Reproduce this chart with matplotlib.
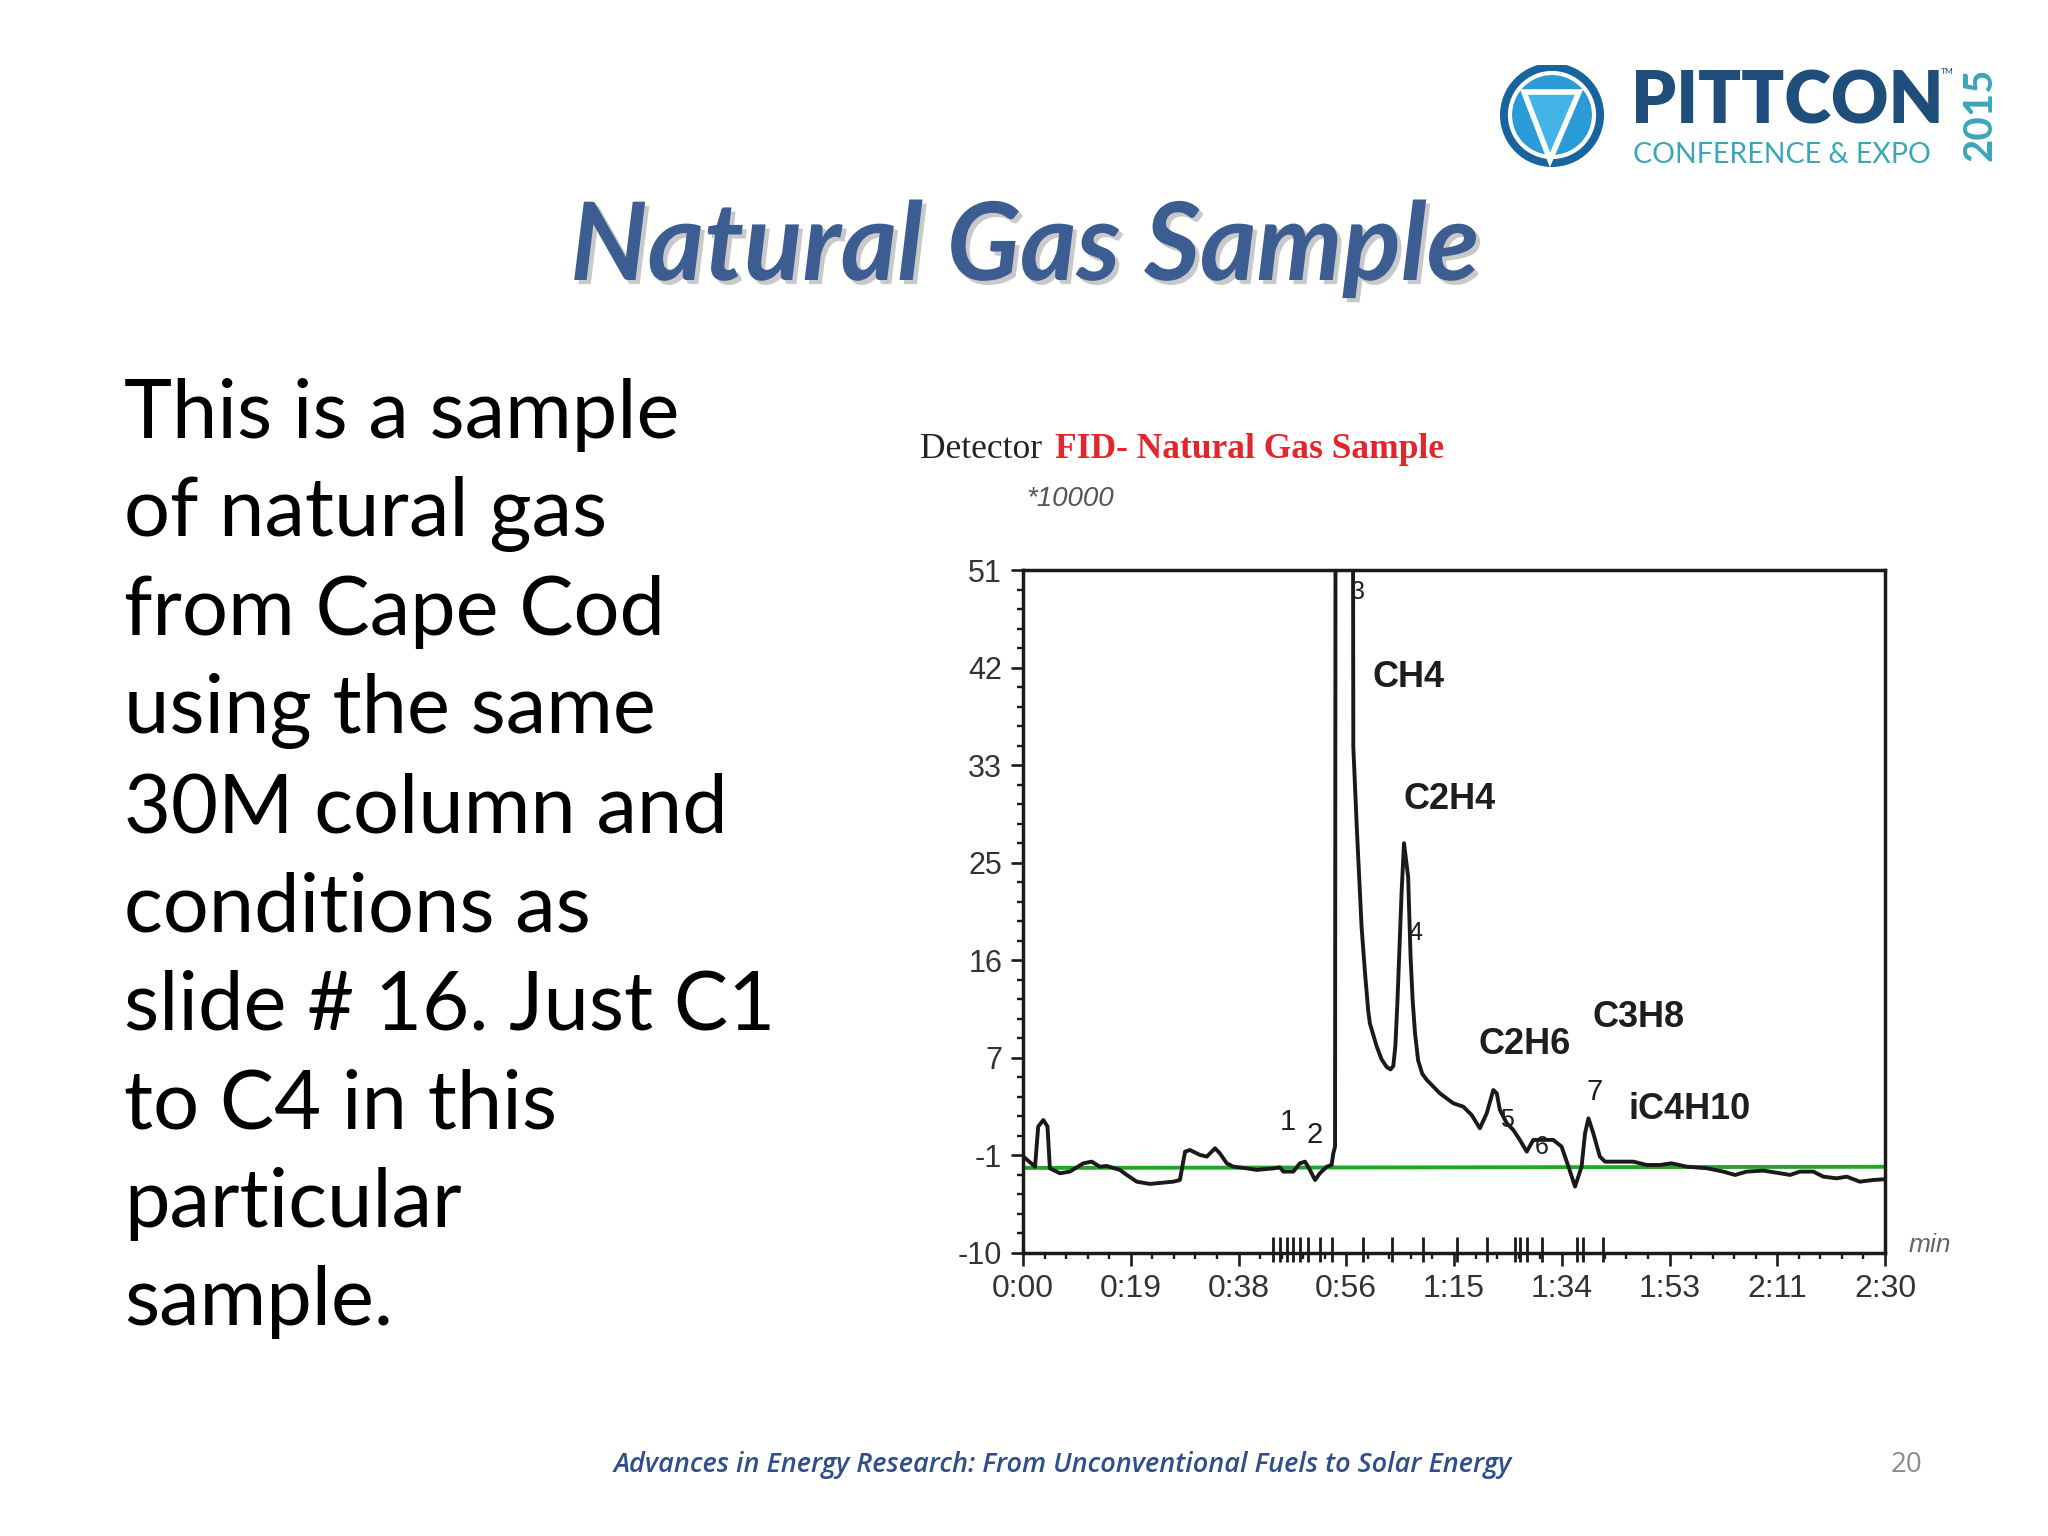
import matplotlib.pyplot as plt
import matplotlib.patheffects as pe
from matplotlib.patches import Circle, Polygon
import numpy as np

# chromatogram trace, time in min, signal in units of 10000
time_min = [0.001, 0.035, 0.044, 0.059, 0.071, 0.078, 0.107, 0.136, 0.175, 0.199,
            0.223, 0.243, 0.281, 0.301, 0.330, 0.368, 0.436, 0.455, 0.470, 0.484,
            0.513, 0.533, 0.557, 0.571, 0.591, 0.610, 0.649, 0.678, 0.726, 0.745,
            0.755, 0.784, 0.803, 0.818, 0.832, 0.847, 0.861, 0.881, 0.895, 0.900,
            0.905, 0.907, 0.956, 0.958, 0.968, 0.982, 0.992, 1.001, 1.006, 1.026,
            1.040, 1.055, 1.066, 1.074, 1.080, 1.086, 1.098, 1.105, 1.117, 1.124,
            1.130, 1.137, 1.146, 1.158, 1.171, 1.209, 1.248, 1.277, 1.301, 1.325,
            1.345, 1.364, 1.374, 1.383, 1.403, 1.422, 1.441, 1.461, 1.480, 1.509,
            1.538, 1.562, 1.582, 1.601, 1.620, 1.630, 1.640, 1.654, 1.673, 1.688,
            1.731, 1.770, 1.809, 1.847, 1.881, 1.925, 1.983, 2.031, 2.065, 2.099,
            2.147, 2.196, 2.225, 2.253, 2.292, 2.321, 2.360, 2.389, 2.427, 2.466,
            2.495]
signal = [-1.39, -2.29, 1.29, 1.88, 1.29, -2.44, -2.88, -2.73, -1.99, -1.84,
          -2.29, -2.23, -2.58, -3.03, -3.63, -3.83, -3.63, -3.48, -0.95, -0.80,
          -1.24, -1.39, -0.65, -1.10, -1.99, -2.29, -2.44, -2.58, -2.44, -2.35,
          -2.73, -2.73, -1.99, -1.84, -2.58, -3.48, -2.88, -2.29, -2.14, -1.10,
          -0.50, 80.0, 80.0, 35.2, 28.05, 19.1, 14.98, 11.7, 10.51, 8.43,
          7.3, 6.6, 6.4, 6.7, 8.5, 12.5, 22.2, 26.6, 23.6, 16.5,
          12.6, 9.6, 7.2, 6.0, 5.46, 4.26, 3.37, 3.07, 2.33, 1.14,
          2.48, 4.56, 4.26, 2.78, 1.59, 0.99, 0.10, -0.95, 0.10, 0.10,
          0.10, -0.50, -2.29, -4.07, -2.29, 0.69, 2.03, 0.69, -1.39, -1.84,
          -1.84, -1.84, -2.14, -2.14, -1.99, -2.29, -2.43, -2.73, -3.03, -2.73,
          -2.64, -2.88, -3.03, -2.73, -2.73, -3.18, -3.33, -3.18, -3.63, -3.48,
          -3.42]

baseline_t = [0.0, 2.5]
baseline_v = [-2.4, -2.3]

# integration event marks on the time axis
events = [0.726, 0.745, 0.765, 0.784, 0.803, 0.827, 0.861, 0.895, 0.987, 1.069,
          1.161, 1.26, 1.345, 1.427, 1.441, 1.461, 1.504, 1.606, 1.625, 1.683]

compounds = ['CH4', 'C2H4', 'C2H6', 'C3H8', 'iC4H10']
compound_pos = [(1.117, 41.4), (1.238, 30.5), (1.456, 8.6), (1.784, 11.0), (1.934, 2.8)]
peak_nums = ['1', '2', '3', '4', '5', '6', '7']
peak_pos = [(0.769, 1.7), (0.847, 0.5), (0.972, 49.0), (1.137, 18.6),
            (1.404, 1.9), (1.505, -0.5), (1.659, 4.4)]

xtick_labels = ['0:00', '0:19', '0:38', '0:56', '1:15', '1:34', '1:53', '2:11', '2:30']
ytick_labels = ['-10', '-1', '7', '16', '25', '33', '42', '51']

body_lines = ['This is a sample', 'of natural gas', 'from Cape Cod', 'using the same',
              '30M column and', 'conditions as', 'slide # 16. Just C1', 'to C4 in this',
              'particular', 'sample.']

W, H = 2048, 1536
fig = plt.figure(figsize=(20.48, 15.36), dpi=100)
fig.patch.set_facecolor('white')

def fx(px):
    return px / W

def fy(py):
    return 1 - py / H

# title and slide text
fig.text(fx(1025), fy(249), 'Natural Gas Sample', family='Lato', style='italic',
         weight='bold', size=78, color='#3c5d91', ha='center', va='center',
         path_effects=[pe.withSimplePatchShadow(offset=(3, -3), shadow_rgbFace='#888888', alpha=0.45)])

for i, line in enumerate(body_lines):
    fig.text(fx(124), fy(415 + i * 98.6), line, family='Lato', size=58.5,
             color='black', ha='left', va='center')

fig.text(fx(1063), fy(1465), 'Advances in Energy Research: From Unconventional Fuels to Solar Energy',
         family='Open Sans', style='italic', weight='semibold', size=19.5,
         color='#2e4e8c', ha='center', va='center')
fig.text(fx(1907), fy(1465), '20', family='Open Sans', size=20, color='#8c8c8c',
         ha='center', va='center')

# logo
lax = fig.add_axes([fx(1490), fy(175), fx(530), 110 / H])
lax.set_xlim(1490, 2020)
lax.set_ylim(175, 65)
lax.set_aspect('equal')
lax.axis('off')
lax.add_patch(Circle((1552, 115), 52, facecolor='#17649f', edgecolor='none'))
lax.add_patch(Circle((1552, 115), 42, facecolor='#2b9bd8', edgecolor='white', lw=3))
lax.add_patch(Polygon([(1524, 92), (1579, 92), (1550, 160)], closed=True,
                      facecolor='#43b4e6', edgecolor='white', lw=4))
lax.text(1631, 102, 'PITTCON', family='Lato', weight='heavy', size=51,
         color='#1f4e7a', ha='left', va='center')
lax.text(1941, 72, 'TM', family='Lato', size=6, color='#1f4e7a', ha='left', va='center')
lax.text(1633, 155, 'CONFERENCE & EXPO', family='Lato', size=20.5,
         color='#3aa6b8', ha='left', va='center')
lax.text(1980, 114, '2015', family='Lato', weight='bold', size=29, rotation=90,
         color='#3aa6b8', ha='center', va='center')

# chart header
fig.text(fx(920), fy(449), 'Detector', family='Liberation Serif', size=25.5,
         color='#222222', ha='left', va='center')
fig.text(fx(1055), fy(449), 'FID- Natural Gas Sample', family='Liberation Serif',
         weight='bold', size=25.5, color='#e3262d', ha='left', va='center')
fig.text(fx(1070), fy(499), '*10000', family='Liberation Sans', style='italic',
         size=20, color='#555555', ha='center', va='center')
fig.text(fx(1930), fy(1245), 'min', family='Liberation Sans', style='italic',
         size=19, color='#666666', ha='center', va='center')

ax = fig.add_axes([fx(1023), fy(1253), fx(1885 - 1023), (1253 - 570) / H])
ax.plot(baseline_t, baseline_v, color='#22a62a', lw=2.8)
ax.plot(time_min, signal, color='#1a1a1a', lw=2.8)
ax.vlines(events, -10.8, -8.6, color='#1a1a1a', lw=2.0, clip_on=False)

ax.set_xlim(0, 2.5)
ax.set_ylim(-10, 51)
ax.set_xticks(np.linspace(0, 2.5, 9))
ax.set_xticklabels(xtick_labels)
ax.set_xticks(np.arange(0, 2.5001, 2.5 / 40), minor=True)
ax.set_yticks(np.linspace(-10, 51, 8))
ax.set_yticklabels(ytick_labels)
ax.set_yticks(np.linspace(-10, 51, 36), minor=True)
ax.tick_params(which='major', length=9, width=1.9, color='#1a1a1a', pad=6)
ax.tick_params(which='minor', length=4.5, width=1.7, color='#1a1a1a')
for lbl in ax.get_xticklabels():
    lbl.set_fontfamily('Liberation Sans')
    lbl.set_fontsize(23)
    lbl.set_color('#333333')
for lbl in ax.get_yticklabels():
    lbl.set_fontfamily('Liberation Sans')
    lbl.set_fontsize(22)
    lbl.set_color('#333333')
for s in ax.spines.values():
    s.set_linewidth(2.5)
    s.set_color('#1a1a1a')

for name, (t, v) in zip(compounds, compound_pos):
    ax.text(t, v, name, family='Liberation Sans', weight='bold', size=26,
            color='#1e1e1e', ha='center', va='center')
for num, (t, v) in zip(peak_nums, peak_pos):
    sz = 21 if num in ('1', '2', '7') else 18
    ax.text(t, v, num, family='Liberation Sans', size=sz, color='#1e1e1e',
            ha='center', va='center')

plt.savefig('out.png', dpi=100)
